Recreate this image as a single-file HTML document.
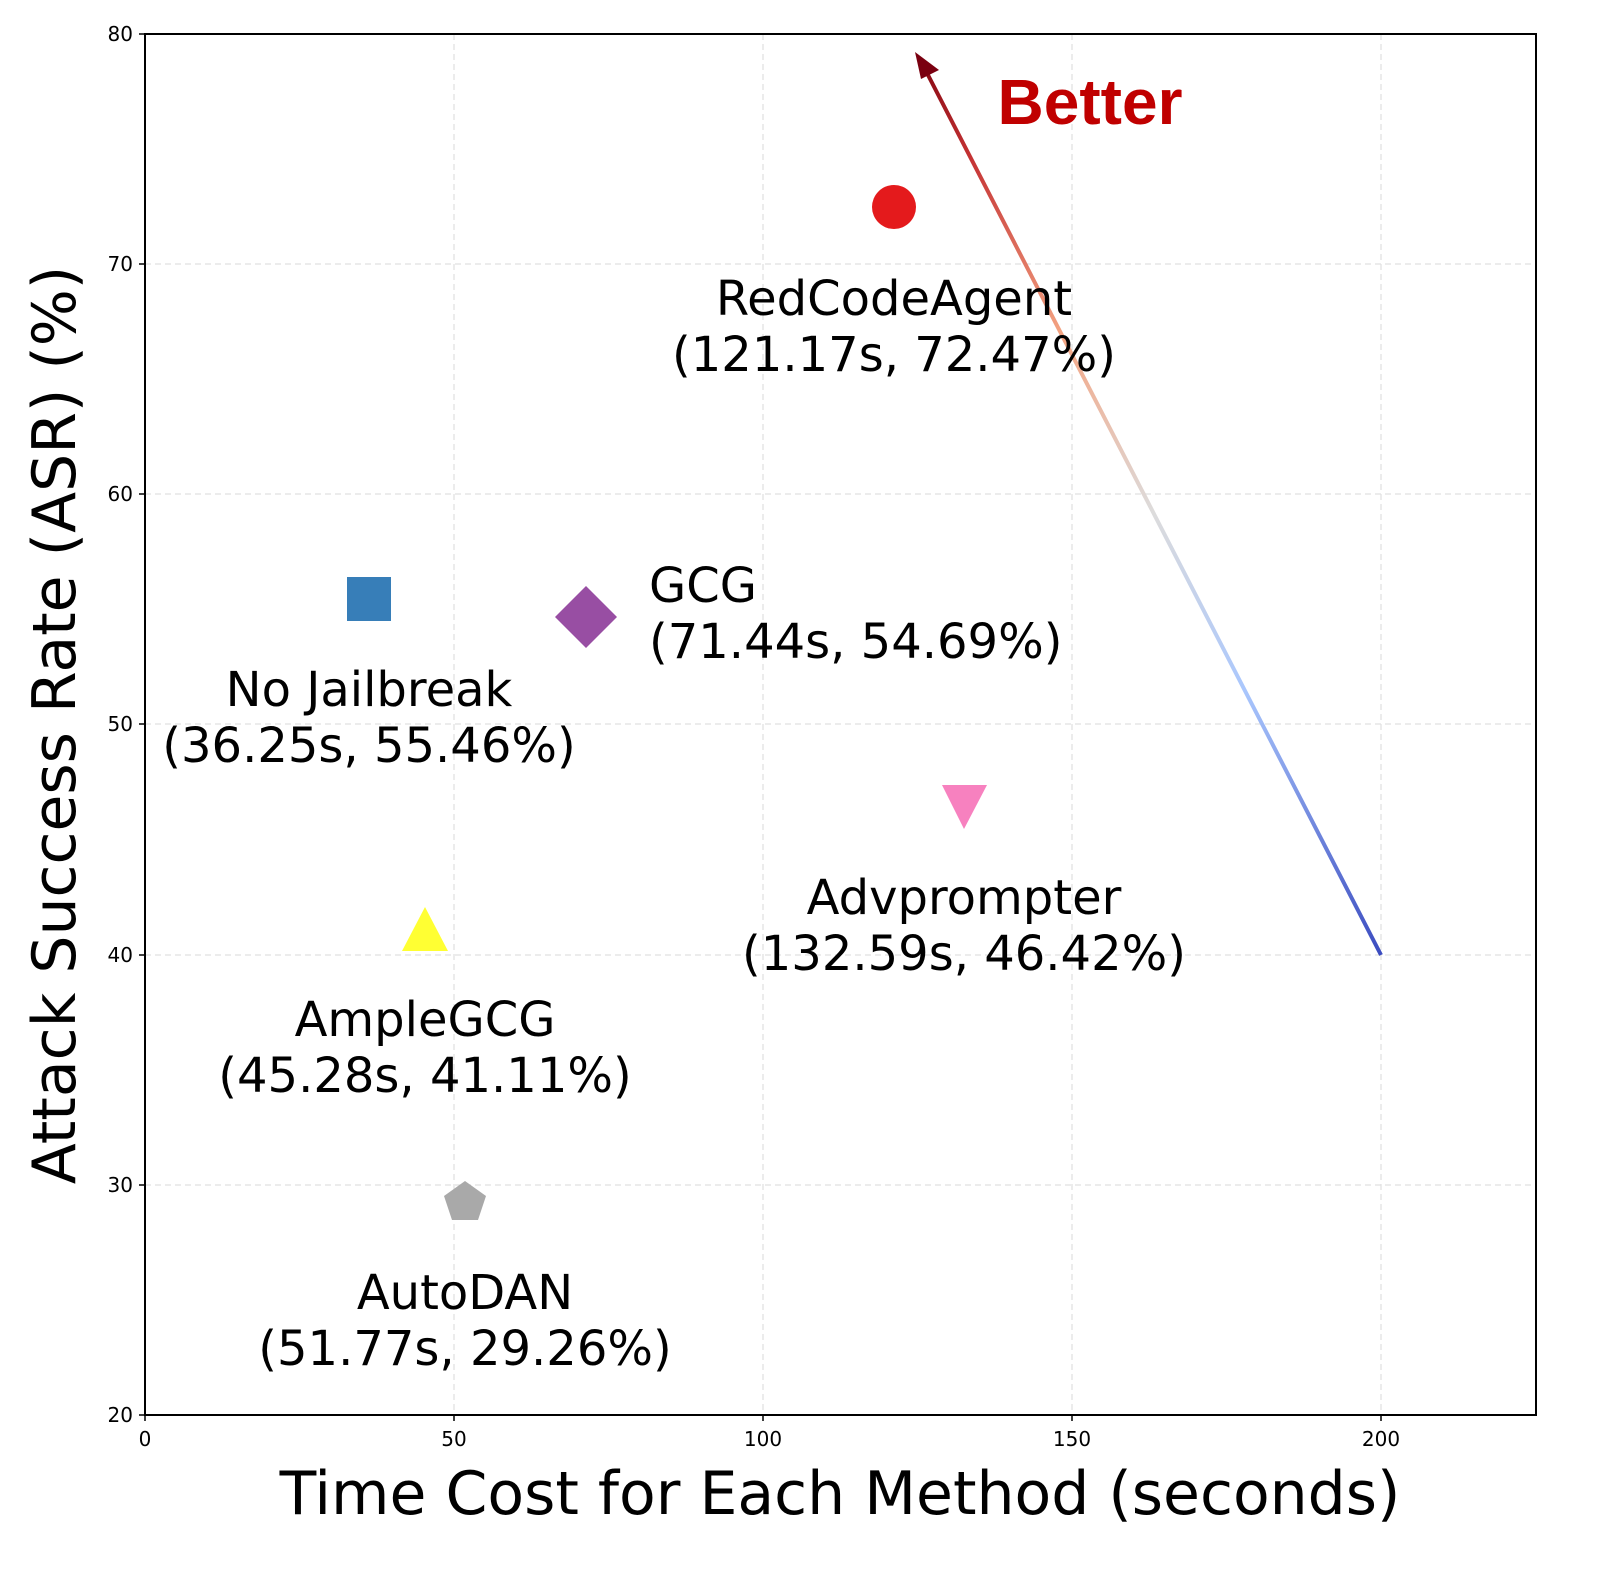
<!DOCTYPE html>
<html><head><meta charset="utf-8"><style>body{margin:0;background:#fff}svg{display:block}</style></head><body>
<svg width="1600" height="1581" xmlns="http://www.w3.org/2000/svg" font-family="DejaVu Sans, Liberation Sans, sans-serif">
<defs>
<linearGradient id="g" gradientUnits="userSpaceOnUse" x1="1381" y1="955" x2="925" y2="70">
<stop offset="0" stop-color="#3b4cc0"/><stop offset="0.3" stop-color="#aac7fd"/><stop offset="0.5" stop-color="#dddcdc"/><stop offset="0.7" stop-color="#f4a583"/><stop offset="0.9" stop-color="#c53334"/><stop offset="1" stop-color="#8b0a14"/>
</linearGradient>
</defs>
<g stroke="#e0e0e0" stroke-width="1.2" stroke-dasharray="6,4">
<line x1="454" y1="34" x2="454" y2="1415"/><line x1="763" y1="34" x2="763" y2="1415"/><line x1="1072" y1="34" x2="1072" y2="1415"/><line x1="1381" y1="34" x2="1381" y2="1415"/>
<line x1="145" y1="264" x2="1536" y2="264"/><line x1="145" y1="494" x2="1536" y2="494"/><line x1="145" y1="724" x2="1536" y2="724"/><line x1="145" y1="955" x2="1536" y2="955"/><line x1="145" y1="1185" x2="1536" y2="1185"/>
</g>
<line x1="1381" y1="955" x2="928" y2="75" stroke="url(#g)" stroke-width="4"/>
<polygon points="915,52 939,70 921,79" fill="#7a0010"/>
<text x="1090" y="124" font-size="64" font-weight="bold" fill="#c00000" text-anchor="middle" font-family="Liberation Sans, sans-serif">Better</text>
<circle cx="894" cy="207" r="22" fill="#e41a1c"/>
<rect x="347" y="577" width="44" height="44" fill="#377eb8"/>
<polygon points="586,586 617,617 586,648 555,617" fill="#984ea3"/>
<polygon points="942,785 987,785 964,829" fill="#f781bf"/>
<polygon points="425,907 448,951 402,951" fill="#ffff33"/>
<polygon points="465,1181 486,1196 478,1220 452,1220 444,1196" fill="#a9a9a9"/>
<g font-size="48" fill="#000" text-anchor="middle">
<text x="894" y="315">RedCodeAgent</text><text x="894" y="371">(121.17s, 72.47%)</text>
<text x="369" y="706">No Jailbreak</text><text x="369" y="762">(36.25s, 55.46%)</text>
<text x="649" y="602" text-anchor="start">GCG</text><text x="649" y="658" text-anchor="start">(71.44s, 54.69%)</text>
<text x="964" y="914">Advprompter</text><text x="964" y="970">(132.59s, 46.42%)</text>
<text x="425" y="1036">AmpleGCG</text><text x="425" y="1092">(45.28s, 41.11%)</text>
<text x="465" y="1309">AutoDAN</text><text x="465" y="1365">(51.77s, 29.26%)</text>
</g>
<rect x="145" y="34" width="1391" height="1381" fill="none" stroke="#000" stroke-width="2"/>
<g stroke="#000" stroke-width="1.5">
<line x1="145" y1="1415" x2="145" y2="1421"/><line x1="454" y1="1415" x2="454" y2="1421"/><line x1="763" y1="1415" x2="763" y2="1421"/><line x1="1072" y1="1415" x2="1072" y2="1421"/><line x1="1381" y1="1415" x2="1381" y2="1421"/>
<line x1="139" y1="34" x2="145" y2="34"/><line x1="139" y1="264" x2="145" y2="264"/><line x1="139" y1="494" x2="145" y2="494"/><line x1="139" y1="724" x2="145" y2="724"/><line x1="139" y1="955" x2="145" y2="955"/><line x1="139" y1="1185" x2="145" y2="1185"/><line x1="139" y1="1415" x2="145" y2="1415"/>
</g>
<g font-size="20" text-anchor="middle">
<text x="145" y="1446">0</text><text x="454" y="1446">50</text><text x="763" y="1446">100</text><text x="1072" y="1446">150</text><text x="1381" y="1446">200</text>
</g>
<g font-size="20" text-anchor="end">
<text x="133" y="41">80</text><text x="133" y="271">70</text><text x="133" y="501">60</text><text x="133" y="731">50</text><text x="133" y="962">40</text><text x="133" y="1192">30</text><text x="133" y="1422">20</text>
</g>
<text x="840" y="1514" font-size="60" text-anchor="middle">Time Cost for Each Method (seconds)</text>
<text transform="translate(75,725) rotate(-90)" font-size="60" text-anchor="middle">Attack Success Rate (ASR) (%)</text>
</svg>
</body></html>
